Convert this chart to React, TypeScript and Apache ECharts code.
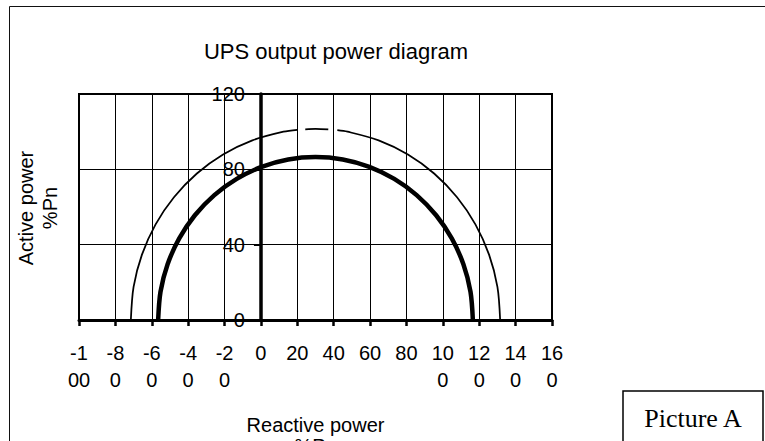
import React, { useEffect, useRef } from "react";
import * as echarts from "echarts";

// X axis: reactive power (%Pn)
const xTicks = [-100, -80, -60, -40, -20, 0, 20, 40, 60, 80, 100, 120, 140, 160];
const xTickLabels = ["-1\n00", "-8\n0", "-6\n0", "-4\n0", "-2\n0", "0", "20", "40", "60", "80", "10\n0", "12\n0", "14\n0", "16\n0"];
const yTicks = [0, 40, 80, 120];

// Inner (thick) curve: continuous operating limit
const innerQ = [-56.5, -55.2, -51.3, -44.9, -36.3, -25.6, -13.3, 0.4, 15.0, 30, 45.0, 59.6, 73.3, 85.6, 96.3, 104.9, 111.3, 115.2, 116.5];
const innerP = [0, 15.0, 29.6, 43.3, 55.6, 66.3, 74.9, 81.3, 85.2, 86.5, 85.2, 81.3, 74.9, 66.3, 55.6, 43.3, 29.6, 15.0, 0];

// Outer (thin) curve, left solid part
const outerLeftQ = [-71.5, -70.0, -65.4, -57.9, -47.8, -35.2, -20.8, -4.7, 12.4, 20.0];
const outerLeftP = [0, 17.6, 34.7, 50.8, 65.2, 77.8, 87.9, 95.4, 100.0, 101.0];
// Outer curve, dashed top part
const outerDashQ = [20.0, 30, 42.0];
const outerDashP = [101.0, 101.5, 100.8];
// Outer curve, right solid part
const outerRightQ = [42.0, 47.6, 64.7, 80.8, 95.2, 107.8, 117.9, 125.4, 130.0, 131.5];
const outerRightP = [100.8, 100.0, 95.4, 87.9, 77.8, 65.2, 50.8, 34.7, 17.6, 0];

const pairs = (xs: number[], ys: number[]) => xs.map((x, i) => [x, ys[i]]);

const FONT = "'Liberation Sans', Arial, sans-serif";
const SERIF = "'Liberation Serif', 'Times New Roman', serif";

const GRID_LEFT = 79;
const GRID_RIGHT = 213;
const CHART_W = 765;
const X_MIN = xTicks[0];
const X_MAX = xTicks[xTicks.length - 1];
// Move the y axis from the grid's left edge to the x = 0 line
const yAxisOffset = -((0 - X_MIN) / (X_MAX - X_MIN)) * (CHART_W - GRID_LEFT - GRID_RIGHT);

export default function App() {
  const ref = useRef<HTMLDivElement>(null);
  useEffect(() => {
    if (!ref.current) return;
    const chart = echarts.init(ref.current, null, { renderer: "svg" });
    chart.setOption({
      animation: false,
      backgroundColor: "#fff",
      title: {
        text: "UPS output power diagram",
        left: 331,
        top: 35,
        textAlign: "center",
        textStyle: { fontFamily: FONT, fontSize: 22, fontWeight: "normal", color: "#000" },
      },
      grid: {
        left: GRID_LEFT,
        top: 94,
        right: GRID_RIGHT,
        bottom: 121,
        show: true,
        borderColor: "#000",
        borderWidth: 2,
        backgroundColor: "transparent",
        containLabel: false,
        outerBoundsMode: "none",
      },
      xAxis: {
        type: "value",
        min: X_MIN,
        max: X_MAX,
        interval: 20,
        name: "Reactive power\n%Pn",
        nameLocation: "middle",
        nameGap: 94,
        nameTextStyle: { fontFamily: FONT, fontSize: 20, color: "#000", lineHeight: 21 },
        axisLine: { show: true, onZero: true, lineStyle: { color: "#000", width: 3 } },
        axisTick: { show: true, length: 6, lineStyle: { color: "#000", width: 2.5 } },
        axisLabel: {
          margin: 19,
          fontFamily: FONT,
          fontSize: 20,
          lineHeight: 27,
          color: "#000",
          showMinLabel: true,
          showMaxLabel: true,
          hideOverlap: false,
          formatter: (v: number) => {
            const i = xTicks.indexOf(v);
            return i >= 0 ? xTickLabels[i] : "";
          },
        },
        splitLine: { show: true, lineStyle: { color: "#000", width: 1 } },
      },
      yAxis: {
        type: "value",
        min: 0,
        max: 120,
        interval: 40,
        position: "left",
        offset: yAxisOffset,
        axisLine: { show: true, onZero: false, lineStyle: { color: "#000", width: 3.5 } },
        axisTick: { show: true, length: 7, lineStyle: { color: "#000", width: 2 } },
        axisLabel: {
          margin: 16,
          fontFamily: FONT,
          fontSize: 20,
          color: "#000",
          showMinLabel: true,
          showMaxLabel: true,
          formatter: (v: number) => (yTicks.includes(v) ? String(v) : ""),
        },
        splitLine: { show: true, lineStyle: { color: "#000", width: 1 } },
      },
      graphic: [
        {
          type: "rect",
          shape: { x: 9.5, y: 6.5, width: 820, height: 520 },
          style: { fill: "none", stroke: "#111", lineWidth: 1 },
          silent: true,
        },
        {
          type: "text",
          x: 38,
          y: 208,
          rotation: Math.PI / 2,
          style: {
            text: "Active power\n%Pn",
            align: "center",
            verticalAlign: "middle",
            fontFamily: FONT,
            fontSize: 20,
            lineHeight: 24,
            fill: "#000",
          },
        },
        {
          type: "rect",
          shape: { x: 623, y: 391, width: 140, height: 80 },
          style: { fill: "#fff", stroke: "#000", lineWidth: 1.5 },
        },
        {
          type: "text",
          x: 693,
          y: 418,
          style: {
            text: "Picture A",
            align: "center",
            verticalAlign: "middle",
            fontFamily: SERIF,
            fontSize: 26,
            fill: "#000",
          },
        },
      ],
      series: [
        {
          name: "Outer limit",
          type: "line",
          data: pairs(outerLeftQ, outerLeftP),
          smooth: 0.3,
          showSymbol: false,
          lineStyle: { color: "#000", width: 1.75 },
        },
        {
          name: "Outer limit (dashed)",
          type: "line",
          data: pairs(outerDashQ, outerDashP),
          smooth: 0.3,
          showSymbol: false,
          lineStyle: { color: "#000", width: 1.75, type: [23, 9], dashOffset: 24 },
        },
        {
          name: "Outer limit right",
          type: "line",
          data: pairs(outerRightQ, outerRightP),
          smooth: 0.3,
          showSymbol: false,
          lineStyle: { color: "#000", width: 1.75 },
        },
        {
          name: "Inner limit",
          type: "line",
          data: pairs(innerQ, innerP),
          smooth: 0.3,
          showSymbol: false,
          lineStyle: { color: "#000", width: 4.5 },
        },
      ],
    });
    return () => chart.dispose();
  }, []);
  return (
    <div
      ref={ref}
      style={{ position: "absolute", left: 0, top: 0, width: 765, height: 441, background: "#fff" }}
    />
  );
}
